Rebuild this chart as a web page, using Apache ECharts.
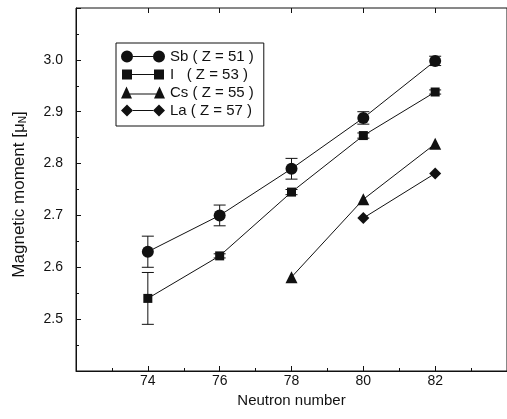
<!DOCTYPE html>
<html>
<head>
<meta charset="utf-8">
<script src="https://cdn.jsdelivr.net/npm/echarts@6/dist/echarts.min.js"></script>
<style>
html, body { margin: 0; padding: 0; background: #fff; }
#chart1 { width: 507px; height: 419px; }
</style>
</head>
<body>
<div id="chart1"></div>
<script>
var neutrons = [74, 76, 78, 80, 82];
var sbVals = [2.63, 2.70, 2.79, 2.888, 2.998];
var sbErr = [0.03, 0.02, 0.02, 0.012, 0.009];
var iVals = [2.54, 2.622, 2.745, 2.854, 2.938];
var iErr = [0.05, 0.004, 0.005, 0.005, 0.004];
var csN = [78, 80, 82];
var csVals = [2.581, 2.731, 2.838];
var laN = [80, 82];
var laVals = [2.695, 2.781];
var names = ['Sb ( Z = 51 )', 'I   ( Z = 53 )', 'Cs ( Z = 55 )', 'La ( Z = 57 )'];

var font = '"Liberation Sans", Arial, Helvetica, sans-serif';
var ink = '#111';

function pairs(xs, ys) {
  return xs.map(function (x, i) { return [x, ys[i]]; });
}
function errData(xs, ys, es) {
  return xs.map(function (x, i) { return [x, ys[i] - es[i], ys[i] + es[i]]; });
}

// legend icons: marker - line - marker
var icons = [
  'path://M0,6A6,6 0 1,1 12,6A6,6 0 1,1 0,6ZM12,5.5L32,5.5L32,6.5L12,6.5ZM32,6A6,6 0 1,1 44,6A6,6 0 1,1 32,6Z',
  'path://M1,1L11,1L11,11L1,11ZM11,5.5L33,5.5L33,6.5L11,6.5ZM33,1L43,1L43,11L33,11ZM0,0L0,0ZM44,12L44,12Z',
  'path://M0,12L5.5,0L11,12ZM8,7L36,7L36,8L8,8ZM33,12L38.5,0L44,12Z',
  'path://M0,6L6,0L12,6L6,12ZM12,5.5L32,5.5L32,6.5L12,6.5ZM32,6L38,0L44,6L38,12Z'
];

var dom = document.getElementById('chart1');
var myChart = echarts.init(dom);

function errorBars(params, api) {
  var x = api.value(0);
  var lo = api.coord([x, api.value(1)]);
  var hi = api.coord([x, api.value(2)]);
  var w = 6;
  var st = { stroke: ink, lineWidth: 1 };
  return {
    type: 'group',
    children: [
      { type: 'line', shape: { x1: lo[0], y1: lo[1], x2: hi[0], y2: hi[1] }, style: st },
      { type: 'line', shape: { x1: lo[0] - w, y1: lo[1], x2: lo[0] + w, y2: lo[1] }, style: st },
      { type: 'line', shape: { x1: hi[0] - w, y1: hi[1], x2: hi[0] + w, y2: hi[1] }, style: st }
    ]
  };
}

function lineSeries(name, data, symbol, size) {
  return {
    name: name,
    type: 'line',
    data: data,
    symbol: symbol,
    symbolSize: size,
    showAllSymbol: true,
    lineStyle: { color: ink, width: 1 },
    itemStyle: { color: ink, borderWidth: 0 },
    z: 3,
    animation: false
  };
}

var option = {
  backgroundColor: '#fff',
  textStyle: { fontFamily: font, color: ink },
  grid: {
    left: 76, top: 8, width: 440, height: 363,
    show: true, borderColor: ink, borderWidth: 1
  },
  legend: {
    orient: 'vertical',
    left: 116, top: 43,
    data: names.map(function (n, i) { return { name: n, icon: icons[i] }; }),
    itemWidth: 44, itemHeight: 12, itemGap: 3,
    padding: [6, 10, 8, 5],
    borderColor: ink, borderWidth: 1,
    selectedMode: false,
    textStyle: { fontFamily: font, fontSize: 15, color: ink },
    itemStyle: { color: ink }
  },
  xAxis: [
    {
      type: 'value', min: 72, max: 84, interval: 2,
      name: 'Neutron number', nameLocation: 'middle', nameGap: 22,
      nameTextStyle: { fontFamily: font, fontSize: 15, color: ink },
      axisLine: { lineStyle: { color: ink } },
      axisTick: { inside: true, length: 5, lineStyle: { color: ink } },
      minorTick: { show: true, splitNumber: 2, length: 3, lineStyle: { color: ink } },
      splitLine: { show: false },
      axisLabel: { fontFamily: font, fontSize: 14, color: ink, margin: 3, showMinLabel: false, showMaxLabel: false }
    },
    {
      type: 'value', min: 72, max: 84, interval: 2, position: 'top',
      axisLine: { show: false },
      axisTick: { inside: true, length: 5, lineStyle: { color: ink } },
      axisLabel: { show: false },
      splitLine: { show: false }
    }
  ],
  yAxis: {
    type: 'value', min: 2.4, max: 3.1, interval: 0.1,
    name: 'Magnetic moment [μ{sub|N}]', nameLocation: 'middle', nameGap: 48, nameRotate: 90,
    nameTextStyle: {
      fontFamily: font, fontSize: 17, color: ink, padding: [0, 10, 0, 0],
      rich: { sub: { fontFamily: font, fontSize: 10, color: ink, verticalAlign: 'bottom', padding: [8, 0, 0, 0] } }
    },
    axisLine: { show: true, lineStyle: { color: ink } },
    axisTick: { inside: true, length: 5, lineStyle: { color: ink } },
    minorTick: { show: true, splitNumber: 2, length: 3, lineStyle: { color: ink } },
    splitLine: { show: false },
    axisLabel: {
      fontFamily: font, fontSize: 14, color: ink, margin: 13,
      showMinLabel: false, showMaxLabel: false,
      formatter: function (v) { return v.toFixed(1); }
    }
  },
  series: [
    { type: 'custom', renderItem: errorBars, data: errData(neutrons, sbVals, sbErr), z: 2, silent: true, animation: false },
    { type: 'custom', renderItem: errorBars, data: errData(neutrons, iVals, iErr), z: 2, silent: true, animation: false },
    lineSeries(names[0], pairs(neutrons, sbVals), 'circle', 12),
    lineSeries(names[1], pairs(neutrons, iVals), 'rect', 9),
    lineSeries(names[2], pairs(csN, csVals), 'triangle', 12),
    lineSeries(names[3], pairs(laN, laVals), 'diamond', 12)
  ]
};

myChart.setOption(option);
</script>
</body>
</html>
